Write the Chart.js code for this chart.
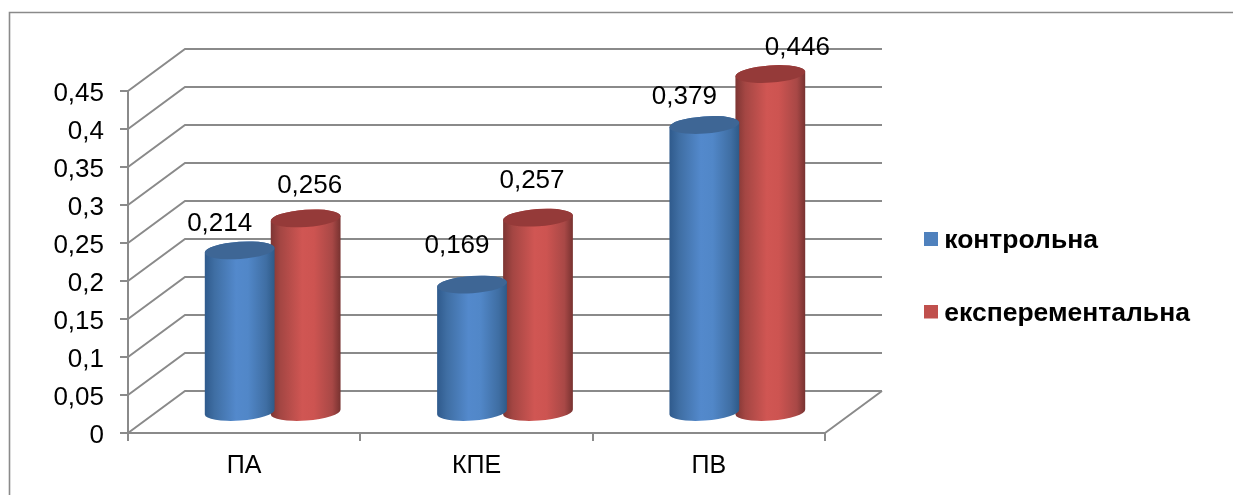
<!DOCTYPE html>
<html>
<head>
<meta charset="utf-8">
<style>
  html, body { margin: 0; padding: 0; background: #fff; }
  #wrap { position: relative; width: 1233px; height: 495px; }
</style>
<script src="https://cdn.jsdelivr.net/npm/chart.js@4/dist/chart.umd.js"></script>
</head>
<body>
<div id="wrap"><canvas id="chart" width="1233" height="495"></canvas></div>
<script>
const categories = ['ПА', 'КПЕ', 'ПВ'];
const controlValues = [0.214, 0.169, 0.379];
const experimentalValues = [0.256, 0.257, 0.446];
const seriesNames = ['контрольна', 'експерементальна'];
const seriesColors = ['#4F81BD', '#C0504D'];

const LINE = '#8a8a8a';
const FONT = '"Liberation Sans", Arial, sans-serif';
const DEPTH = { x: 57, y: 42 };
const BAR_SHIFT = { x: 28.5, y: 20 };
const TILT = -0.07;
const CAP_RY = 8.6;

// Shading of each cylinder as [offset, colour] stops, plus the flat lid colour.
const shades = {
  '#4F81BD': {
    side: [[0, '#2f5a8c'], [0.14, '#3f6ea3'], [0.45, '#5389cc'], [0.62, '#5187c8'], [0.88, '#3f6ea3'], [1, '#2e5a88']],
    lid: '#3e6695'
  },
  '#C0504D': {
    side: [[0, '#7d3533'], [0.14, '#a44643'], [0.45, '#d05653'], [0.62, '#cd5451'], [0.88, '#a84846'], [1, '#773230']],
    lid: '#953a39'
  }
};

// Nudges of the value labels relative to the top of their cylinder.
const labelNudge = [
  [[-20, -27], [-15, -39], [-20, -28]],
  [[4, -33], [-6, -37], [27, -26]]
];

// Bars are rendered as cylinders standing partway along the floor depth.
Chart.BarElement.prototype.draw = function (ctx) {
  const { x, y, base, width } = this.getProps(['x', 'y', 'base', 'width']);
  const shade = shades[this.options.backgroundColor];
  const cx = x + BAR_SHIFT.x, top = y - BAR_SHIFT.y, bottom = base - BAR_SHIFT.y;
  const rx = width / 2;
  const g = ctx.createLinearGradient(cx - rx, 0, cx + rx, 0);
  shade.side.forEach(([o, c]) => g.addColorStop(o, c));
  ctx.save();
  ctx.beginPath();
  ctx.ellipse(cx, bottom, rx, CAP_RY, TILT, 0, Math.PI);
  ctx.ellipse(cx, top, rx, CAP_RY, TILT, Math.PI, Math.PI * 2);
  ctx.closePath();
  ctx.fillStyle = g;
  ctx.fill();
  ctx.beginPath();
  ctx.ellipse(cx, top, rx, CAP_RY, TILT, 0, Math.PI * 2);
  ctx.fillStyle = shade.lid;
  ctx.fill();
  ctx.restore();
};

// Legend swatch as a small canvas; the spare rows lift it slightly above the text centre.
function swatch(color) {
  const c = document.createElement('canvas');
  c.width = 14; c.height = 18;
  const k = c.getContext('2d');
  k.fillStyle = color;
  k.fillRect(0, 0, 14, 14);
  return c;
}

// Frame, side wall, floor and back wall of the 3D box.
const boxPlugin = {
  id: 'box',
  beforeDatasetsDraw(chart) {
    const { ctx, chartArea: a, scales: { y } } = chart;
    ctx.save();
    ctx.strokeStyle = LINE;
    ctx.lineWidth = 1.6;
    ctx.beginPath();
    ctx.moveTo(9.5, 495); ctx.lineTo(9.5, 12.5); ctx.lineTo(1233, 12.5);
    ctx.stroke();
    ctx.lineWidth = 2;
    ctx.beginPath();
    y.ticks.forEach(t => {
      const py = Math.round(y.getPixelForValue(t.value));
      ctx.moveTo(a.left, py);
      ctx.lineTo(a.left + DEPTH.x, py - DEPTH.y);
      ctx.lineTo(a.right + DEPTH.x, py - DEPTH.y);
    });
    ctx.moveTo(a.right, a.bottom);
    ctx.lineTo(a.right + DEPTH.x, a.bottom - DEPTH.y);
    ctx.stroke();
    ctx.restore();
  },
  afterDatasetsDraw(chart) {
    const { ctx } = chart;
    ctx.save();
    ctx.font = '26px ' + FONT;
    ctx.fillStyle = '#000';
    ctx.textAlign = 'center';
    ctx.textBaseline = 'middle';
    chart.data.datasets.forEach((ds, i) => {
      chart.getDatasetMeta(i).data.forEach((bar, j) => {
        const [dx, dy] = labelNudge[i][j];
        ctx.fillText(String(ds.data[j]).replace('.', ','),
          bar.x + BAR_SHIFT.x + dx, bar.y - BAR_SHIFT.y + dy);
      });
    });
    ctx.restore();
  },
  afterLayout(chart) {
    const l = chart.legend;
    const w = l.width, h = l.height;
    l.left = 884; l.right = l.left + w;
    l.top = 181.75; l.bottom = l.top + h;
  }
};

new Chart(document.getElementById('chart'), {
  type: 'bar',
  data: {
    labels: categories,
    datasets: [
      { label: seriesNames[0], data: controlValues, backgroundColor: seriesColors[0], clip: false },
      { label: seriesNames[1], data: experimentalValues, backgroundColor: seriesColors[1], clip: false }
    ]
  },
  plugins: [boxPlugin],
  options: {
    responsive: false,
    animation: false,
    devicePixelRatio: 1,
    layout: { padding: { left: 0, top: 91, right: 408, bottom: 0 } },
    datasets: { bar: { categoryPercentage: 0.568, barPercentage: 1.06 } },
    scales: {
      x: {
        afterFit(s) { s.height = 62; },
        grid: { display: true, drawOnChartArea: false, offset: true, color: LINE, lineWidth: 2, tickLength: 8 },
        border: { color: LINE, width: 2 },
        ticks: { color: '#000', font: { family: FONT, size: 25 }, padding: 10, maxRotation: 0 }
      },
      y: {
        min: 0, max: 0.45,
        afterFit(s) { s.width = 128; },
        grid: { display: true, drawOnChartArea: false, color: LINE, lineWidth: 2, tickLength: 8 },
        border: { color: LINE, width: 2 },
        ticks: {
          stepSize: 0.05, color: '#000', font: { family: FONT, size: 26 }, padding: 16, labelOffset: 3,
          callback: v => String(Math.round(v * 100) / 100).replace('.', ',')
        }
      }
    },
    plugins: {
      title: { display: false },
      tooltip: { enabled: false },
      legend: {
        position: 'chartArea',
        align: 'start',
        labels: {
          usePointStyle: true,
          pointStyleWidth: 1,
          padding: 46,
          color: '#000',
          font: { family: FONT, size: 26.5, weight: 'bold' },
          generateLabels: c => c.data.datasets.map((d, i) => ({
            text: d.label, pointStyle: swatch(d.backgroundColor), fillStyle: d.backgroundColor,
            strokeStyle: d.backgroundColor, lineWidth: 0, datasetIndex: i, hidden: false, fontColor: '#000'
          }))
        }
      }
    }
  }
});
</script>
</body>
</html>
